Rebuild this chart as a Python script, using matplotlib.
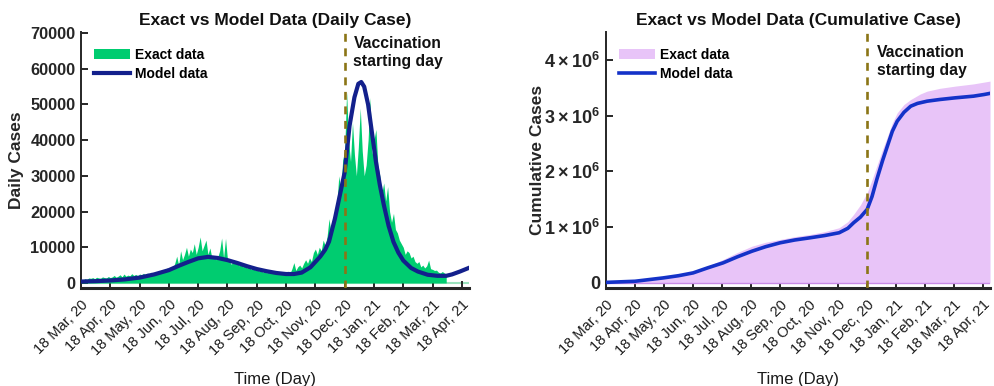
import numpy as np
import matplotlib
matplotlib.use("Agg")
import matplotlib.pyplot as plt

plt.rcParams["font.family"] = ["Liberation Sans", "DejaVu Sans"]
plt.rcParams["mathtext.fontset"] = "custom"
plt.rcParams["mathtext.rm"] = "Liberation Sans:bold"
plt.rcParams["mathtext.bf"] = "Liberation Sans:bold"

# x axis: days since 18 Mar 2020, tick every 30 days
tick_days = [0, 30, 60, 90, 120, 150, 180, 210, 240, 270, 300, 330, 360, 390]
tick_labels = ["18 Mar, 20", "18 Apr, 20", "18 May, 20", "18 Jun, 20", "18 Jul, 20",
               "18 Aug, 20", "18 Sep, 20", "18 Oct, 20", "18 Nov, 20", "18 Dec, 20",
               "18 Jan, 21", "18 Feb, 21", "18 Mar, 21", "18 Apr, 21"]
vaccination_day = 270

# exact daily cases, one value every 2 days (day 0 .. 374)
daily_exact = [
    300, 800, 1200, 1000, 1400, 1300, 1500, 1200, 1600, 1400, 1300, 1700, 1500, 1400, 1800, 1500,
    1700, 2100, 1600, 1900, 2300, 1700, 2500, 1900, 2200, 2000, 2600, 2100, 2400, 2000, 2500,
    2300, 2700, 2200, 2800, 2500, 3000, 2600, 3200, 2900, 3500, 3000, 3800, 3300, 4200, 3700,
    4500, 4000, 5500, 7500, 5000, 9000, 6500, 8000, 10000, 7500, 9500, 8500, 11000, 8000, 10000,
    12900, 9000, 10500, 12000, 8000, 9800, 7000, 7500, 6500, 7200, 9000, 12600, 7000, 12500, 6500,
    6000, 5200, 6500, 5500, 5800, 4800, 5400, 4500, 5000, 4200, 4800, 3800, 4300, 3600, 4200,
    3300, 3900, 3000, 3500, 2800, 3400, 3100, 3300, 2600, 3200, 2700, 3000, 2500, 2900, 2700,
    3300, 2700, 4000, 5700, 3500, 4500, 5000, 4200, 5500, 6500, 5500, 7000, 6000, 8500, 9500,
    8000, 10000, 9000, 12000, 10500, 13000, 18000, 14000, 16000, 18500, 22000, 30000, 26000, 34500, 37000,
    53500, 40000, 34000, 45000, 36000, 30000, 38000, 49000, 37000, 30000, 33000, 40000, 52000, 36000, 40000,
    43000, 33000, 30000, 25000, 28000, 23000, 27000, 20000, 17000, 19500, 15000, 14000, 12000, 11000, 10000,
    8000, 9000, 8500, 7000, 7500, 6000, 5500, 6000, 4500, 5000, 4200, 4800, 6400, 4000, 3800,
    3500, 3600, 3000, 2800, 3200, 2800, 2500,
]
daily_exact_days = np.arange(len(daily_exact)) * 2

# model daily cases
daily_model_days = [0, 15, 30, 45, 60, 75, 90, 100, 110, 120, 130, 140, 150, 160,
                    170, 180, 190, 200, 210, 218, 226, 235, 245, 250, 254, 260,
                    265, 270, 275, 280, 284, 287, 290, 294, 298, 302, 306, 310,
                    315, 320, 325, 330, 338, 345, 355, 365, 374, 380, 388, 397]
daily_model = [400, 500, 700, 1000, 1500, 2400, 3600, 4800, 5900, 6900, 7300, 7000,
               6400, 5600, 4700, 3900, 3300, 2800, 2500, 2500, 2900, 4400, 7400,
               9300, 11600, 18000, 24500, 31000, 44000, 52000, 55800, 56300, 55000,
               50000, 42000, 34000, 27500, 22000, 16000, 11500, 8500, 6300, 4200,
               3200, 2300, 2000, 2000, 2400, 3200, 4200]

# exact cumulative cases
cum_exact_days = [0, 30, 60, 90, 105, 121, 135, 151, 165, 180, 195, 211, 226, 241,
                  250, 256, 263, 270, 275, 280, 286, 291, 296, 301, 308, 315, 325,
                  332, 345, 361, 380, 397]
cum_exact = [0.01e6, 0.04e6, 0.10e6, 0.20e6, 0.30e6, 0.42e6, 0.54e6, 0.66e6,
             0.73e6, 0.78e6, 0.83e6, 0.87e6, 0.92e6, 0.99e6, 1.10e6, 1.23e6,
             1.40e6, 1.62e6, 1.85e6, 2.10e6, 2.40e6, 2.63e6, 2.87e6, 3.05e6,
             3.20e6, 3.29e6, 3.39e6, 3.44e6, 3.49e6, 3.53e6, 3.57e6, 3.62e6]

# model cumulative cases
cum_model_days = [0, 30, 59, 75, 90, 105, 121, 136, 151, 165, 180, 195, 211, 226,
                  241, 250, 256, 263, 270, 275, 280, 286, 291, 296, 301, 308, 315,
                  322, 332, 345, 361, 380, 391, 397]
cum_model = [0.01e6, 0.03e6, 0.09e6, 0.13e6, 0.18e6, 0.27e6, 0.36e6, 0.47e6,
             0.57e6, 0.65e6, 0.72e6, 0.77e6, 0.81e6, 0.85e6, 0.90e6, 0.98e6,
             1.08e6, 1.18e6, 1.32e6, 1.55e6, 1.86e6, 2.20e6, 2.46e6, 2.72e6,
             2.90e6, 3.06e6, 3.17e6, 3.22e6, 3.26e6, 3.29e6, 3.32e6, 3.35e6,
             3.38e6, 3.40e6]

GREEN = "#00CC70"
NAVY = "#13208C"
BLUE = "#1432C8"
LAVENDER = "#E8C4F8"
OLIVE = "#8B7516"
DARK = "#262626"

fig = plt.figure(figsize=(9.94, 3.86), dpi=100)
ax1 = fig.add_axes([0.0815, 0.254, 0.390, 0.663])
ax2 = fig.add_axes([0.6097, 0.254, 0.3863, 0.663])


def style_axes(ax, ytick_size):
    for side in ("top", "right"):
        ax.spines[side].set_visible(False)
    ax.spines["left"].set_color(DARK)
    ax.spines["left"].set_linewidth(1.4)
    ax.spines["bottom"].set_color(DARK)
    ax.spines["bottom"].set_linewidth(2.2)
    ax.tick_params(direction="in", length=5, width=1.4, color=DARK)
    ax.tick_params(axis="y", labelsize=ytick_size, labelcolor=DARK, pad=4)
    ax.set_xlim(0, 397)
    ax.set_xticks(tick_days)
    ax.set_xticklabels(tick_labels, rotation=45, ha="right", va="top",
                       rotation_mode="anchor", fontsize=10.5, color="#1a1a1a")
    ax.tick_params(axis="x", pad=7)
    for lab in ax.get_yticklabels():
        lab.set_fontweight("bold")
    ax.set_xlabel("Time (Day)", fontsize=12, color="#1a1a1a")
    ax.xaxis.set_label_coords(0.5, -0.33)
    ax.axvline(vaccination_day, color=OLIVE, linestyle=(0, (3, 2.5)), linewidth=1.9, zorder=4)


# ── Left panel: daily cases ──
ax1.axhline(0, color="#9BE3BE", linewidth=1.5, zorder=1)
ax1.fill_between(daily_exact_days, daily_exact, color=GREEN, linewidth=0,
                 label="Exact data", zorder=2)
ax1.plot(daily_model_days, daily_model, color=NAVY, linewidth=3.0,
         label="Model data", zorder=3)
ax1.set_ylim(-1400, 70300)
ax1.set_yticks(np.arange(0, 70001, 10000))
style_axes(ax1, 11.8)
ax1.set_ylabel("Daily Cases", fontsize=12.5, fontweight="bold", color=DARK)
ax1.yaxis.set_label_coords(-0.148, 0.5)
ax1.text(0.5, 1.047, "Exact vs Model Data (Daily Case)", transform=ax1.transAxes,
         ha="center", va="center", fontsize=12.5, fontweight="bold", color="#111111")
ax1.text(279, 69300, "Vaccination\nstarting day", ha="left", va="top",
         fontsize=11.3, fontweight="bold", color="#111111", linespacing=1.3)
ax1.legend(loc="upper left", bbox_to_anchor=(0.02, 0.96), frameon=False,
           prop={"weight": "bold", "size": 10}, handlelength=2.6,
           handletextpad=0.3, labelspacing=0.35, borderaxespad=0)

# ── Right panel: cumulative cases ──
ax2.fill_between(cum_exact_days, cum_exact, color=LAVENDER, linewidth=0,
                 label="Exact data", zorder=2)
ax2.axhline(0, color="#C88BE6", linewidth=1.0, zorder=2)
ax2.plot(cum_model_days, cum_model, color=BLUE, linewidth=2.6,
         label="Model data", zorder=3)
ax2.set_ylim(-0.09e6, 4.5e6)
ax2.set_yticks([0, 1e6, 2e6, 3e6, 4e6])
ax2.set_yticklabels(["0", r"$1\times10^{6}$", r"$2\times10^{6}$",
                     r"$3\times10^{6}$", r"$4\times10^{6}$"])
style_axes(ax2, 13)
ax2.set_ylabel("Cumulative Cases", fontsize=12.5, fontweight="bold", color=DARK)
ax2.yaxis.set_label_coords(-0.16, 0.5)
ax2.text(0.5, 1.047, "Exact vs Model Data (Cumulative Case)", transform=ax2.transAxes,
         ha="center", va="center", fontsize=12.5, fontweight="bold", color="#111111")
ax2.text(280, 4.27e6, "Vaccination\nstarting day", ha="left", va="top",
         fontsize=11.3, fontweight="bold", color="#111111", linespacing=1.3)
ax2.legend(loc="upper left", bbox_to_anchor=(0.02, 0.96), frameon=False,
           prop={"weight": "bold", "size": 10}, handlelength=2.6,
           handletextpad=0.3, labelspacing=0.35, borderaxespad=0)

fig.savefig("out.png", dpi=100)
